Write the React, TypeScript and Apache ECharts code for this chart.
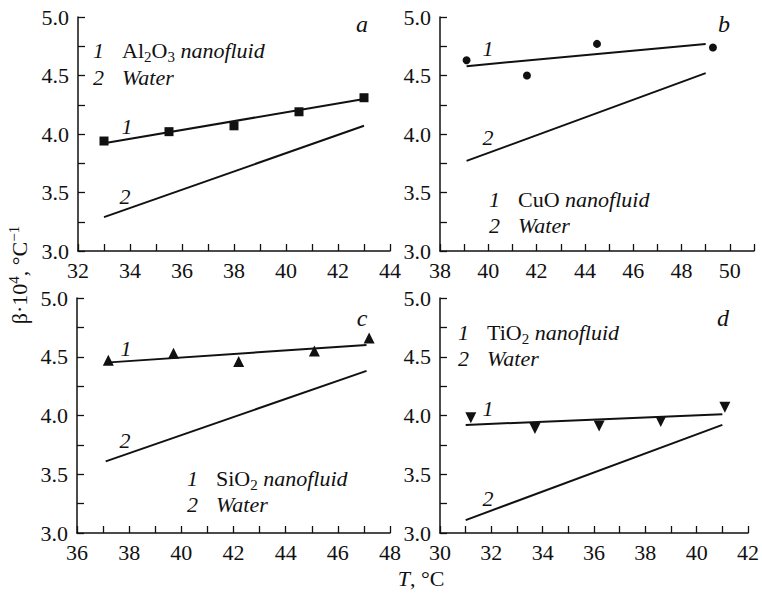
import React, { useEffect, useRef } from 'react';
import * as echarts from 'echarts';

const FONT = 'Liberation Serif, serif';
const INK = '#111';

// Panel a: Al2O3
const aX = [33, 35.5, 38, 40.5, 43];
const aY = [3.94, 4.02, 4.07, 4.19, 4.31];
const aFit1 = [[33, 3.92], [43, 4.30]];
const aFit2 = [[33, 3.29], [43, 4.07]];
// Panel b: CuO
const bX = [39.1, 41.6, 44.5, 49.3];
const bY = [4.63, 4.50, 4.77, 4.74];
const bFit1 = [[39.1, 4.58], [49, 4.77]];
const bFit2 = [[39.1, 3.77], [49, 4.52]];
// Panel c: SiO2
const cX = [37.2, 39.7, 42.2, 45.1, 47.2];
const cY = [4.47, 4.53, 4.46, 4.55, 4.66];
const cFit1 = [[37.1, 4.45], [47.1, 4.60]];
const cFit2 = [[37.1, 3.61], [47.1, 4.38]];
// Panel d: TiO2
const dX = [31.2, 33.7, 36.2, 38.6, 41.1];
const dY = [3.98, 3.89, 3.91, 3.95, 4.07];
const dFit1 = [[31, 3.92], [41, 4.01]];
const dFit2 = [[31, 3.11], [41, 3.92]];

const xRanges = [[32, 44], [38, 51], [36, 48], [30, 42]];
const yRange = [3, 5];

const rich = {
  n: { fontFamily: FONT, fontSize: 22, fill: INK },
  i: { fontFamily: FONT, fontSize: 22, fontStyle: 'italic', fill: INK },
  L: { fontFamily: FONT, fontSize: 24, fontStyle: 'italic', fill: INK },
  num: { fontFamily: FONT, fontSize: 22, fontStyle: 'italic', fill: INK, width: 29 },
  sub: { fontFamily: FONT, fontSize: 15, fill: INK, padding: [13, 0, 0, 0] },
  sup: { fontFamily: FONT, fontSize: 15, fill: INK, padding: [0, 0, 11, 0] },
};

function txt(x: number, y: number, text: string, align = 'left', extra: any = {}) {
  return {
    type: 'text',
    x,
    y,
    silent: true,
    ...extra,
    style: { text, rich, align, verticalAlign: 'middle', fill: INK, fontFamily: FONT, fontSize: 22 },
  };
}

function xAxisOf(gridIndex: number) {
  const [min, max] = xRanges[gridIndex];
  return {
    type: 'value',
    gridIndex,
    min,
    max,
    interval: 1,
    axisLine: { lineStyle: { color: INK, width: 1.5 } },
    axisTick: { inside: true, length: 7, lineStyle: { color: INK, width: 1.3 } },
    axisLabel: {
      formatter: (v: number) => (Math.round(v) % 2 === 0 ? String(Math.round(v)) : ''),
      color: INK,
      fontFamily: FONT,
      fontSize: 22,
      margin: 8,
    },
    splitLine: { show: false },
  };
}

function yAxisOf(gridIndex: number) {
  return {
    type: 'value',
    gridIndex,
    min: yRange[0],
    max: yRange[1],
    interval: 0.25,
    axisLine: { show: true, lineStyle: { color: INK, width: 1.5 } },
    axisTick: { show: true, inside: true, length: 7, lineStyle: { color: INK, width: 1.3 } },
    axisLabel: {
      formatter: (v: number) => (Math.abs(v * 2 - Math.round(v * 2)) < 1e-6 ? v.toFixed(1) : ''),
      color: INK,
      fontFamily: FONT,
      fontSize: 22,
      margin: 9,
    },
    splitLine: { show: false },
  };
}

function pts(xs: number[], ys: number[]) {
  return xs.map((x, k) => [x, ys[k]]);
}

function fit(idx: number, data: number[][]) {
  return {
    type: 'line',
    xAxisIndex: idx,
    yAxisIndex: idx,
    data,
    symbol: 'none',
    lineStyle: { color: INK, width: 2 },
    silent: true,
  };
}

function scat(idx: number, data: number[][], symbol: string, size: number, rotate = 0) {
  return {
    type: 'scatter',
    xAxisIndex: idx,
    yAxisIndex: idx,
    data,
    symbol,
    symbolSize: size,
    symbolRotate: rotate,
    itemStyle: { color: INK, opacity: 1 },
    silent: true,
  };
}

export default function App() {
  const ref = useRef<HTMLDivElement>(null);
  useEffect(() => {
    if (!ref.current) return;
    const chart = echarts.init(ref.current, undefined, { renderer: 'svg' });
    chart.setOption({
      animation: false,
      backgroundColor: '#fff',
      textStyle: { fontFamily: FONT },
      grid: [
        { left: 78, top: 17, width: 312, height: 234 },
        { left: 440, top: 17, width: 314, height: 234 },
        { left: 77, top: 298, width: 313, height: 235 },
        { left: 440, top: 298, width: 312, height: 235 },
      ],
      xAxis: [0, 1, 2, 3].map(xAxisOf),
      yAxis: [0, 1, 2, 3].map(yAxisOf),
      series: [
        fit(0, aFit1), fit(0, aFit2), scat(0, pts(aX, aY), 'rect', 9),
        fit(1, bFit1), fit(1, bFit2), scat(1, pts(bX, bY), 'circle', 8),
        fit(2, cFit1), fit(2, cFit2), scat(2, pts(cX, cY), 'triangle', 11),
        fit(3, dFit1), fit(3, dFit2), scat(3, pts(dX, dY), 'triangle', 11, 180),
      ],
      graphic: [
        // panel letters
        txt(362, 24, '{L|a}', 'center'),
        txt(724, 24, '{L|b}', 'center'),
        txt(362, 318, '{L|c}', 'center'),
        txt(723, 318, '{L|d}', 'center'),
        // legends
        txt(93, 50, '{num|1}{n|Al}{sub|2}{n|O}{sub|3}{i| nanofluid}'),
        txt(93, 77, '{num|2}{i|Water}'),
        txt(489, 199, '{num|1}{n|CuO}{i| nanofluid}'),
        txt(489, 225, '{num|2}{i|Water}'),
        txt(187, 478, '{num|1}{n|SiO}{sub|2}{i| nanofluid}'),
        txt(187, 504, '{num|2}{i|Water}'),
        txt(458, 332, '{num|1}{n|TiO}{sub|2}{i| nanofluid}'),
        txt(458, 358, '{num|2}{i|Water}'),
        // line labels
        txt(127, 126, '{i|1}', 'center'),
        txt(125, 196, '{i|2}', 'center'),
        txt(488, 48, '{i|1}', 'center'),
        txt(488, 137, '{i|2}', 'center'),
        txt(126, 348, '{i|1}', 'center'),
        txt(125, 440, '{i|2}', 'center'),
        txt(488, 408, '{i|1}', 'center'),
        txt(488, 498, '{i|2}', 'center'),
        // axis titles
        txt(19, 275, '{n|β·10}{sup|4}{n|, °C}{sup|−1}', 'center', { rotation: Math.PI / 2 }),
        txt(421, 578, '{i|T}{n|, °C}', 'center'),
      ],
    });
    return () => chart.dispose();
  }, []);
  return (
    <div
      ref={ref}
      style={{ position: 'fixed', left: 0, top: 0, width: 762, height: 593, background: '#fff' }}
    />
  );
}
